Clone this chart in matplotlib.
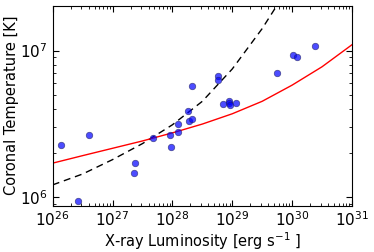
import matplotlib
matplotlib.use('Agg')
import matplotlib.pyplot as plt
import numpy as np

# observed stars: X-ray luminosity [erg/s] and coronal temperature [K]
lx_obs = [1.38e26, 2.67e26, 3.99e26, 2.34e27, 2.27e27, 4.67e27, 9.08e27, 9.33e27,
          1.22e28, 1.25e28, 1.82e28, 1.86e28, 2.09e28, 2.14e28, 5.82e28, 5.82e28,
          7.1e28, 8.87e28, 8.87e28, 9.0e28, 1.14e29, 5.5e29, 1.02e30, 1.2e30, 2.46e30]
t_obs = [2.27e6, 9.5e5, 2.67e6, 1.73e6, 1.47e6, 2.54e6, 2.67e6, 2.20e6,
         3.18e6, 2.79e6, 3.87e6, 3.34e6, 3.44e6, 5.75e6, 6.73e6, 6.35e6,
         4.34e6, 4.55e6, 4.39e6, 4.25e6, 4.43e6, 7.08e6, 9.3e6, 9.1e6, 1.08e7]

log_lx_model = [26.0, 26.5, 27.0, 27.5, 28.0, 28.5, 29.0, 29.5, 30.0, 30.5, 31.0]
log_t_red = [6.234, 6.285, 6.335, 6.385, 6.44, 6.50, 6.57, 6.655, 6.765, 6.89, 7.04]
log_t_dash = [6.086, 6.160, 6.258, 6.367, 6.495, 6.655, 6.875, 7.15, 7.47, 7.8, 8.2]

fig = plt.figure(figsize=(3.74, 2.52), dpi=100)
ax = fig.add_axes([0.141, 0.184, 0.8, 0.793])

ax.plot(10**np.array(log_lx_model), 10**np.array(log_t_dash), 'k--', lw=1.0,
        dashes=(5, 3.5))
ax.plot(10**np.array(log_lx_model), 10**np.array(log_t_red), 'r-', lw=1.0)
ax.scatter(lx_obs, t_obs, s=22, color='b', alpha=0.7, edgecolors='#202060',
           linewidths=0.5, zorder=3)

ax.set_xscale('log')
ax.set_yscale('log')
ax.set_xlim(1e26, 1e31)
ax.set_ylim(8.8e5, 2.02e7)

ax.tick_params(which='both', direction='in', top=True, right=True, labelsize=11)
ax.tick_params(which='major', length=4, width=0.8)
ax.tick_params(which='minor', length=2, width=0.6)

ax.set_xlabel(r'X-ray Luminosity [erg s$^{-1}$ ]', fontsize=10.5, labelpad=1)
ax.set_ylabel('Coronal Temperature [K]', fontsize=10.5, labelpad=1)

fig.savefig('out.png', dpi=100)
